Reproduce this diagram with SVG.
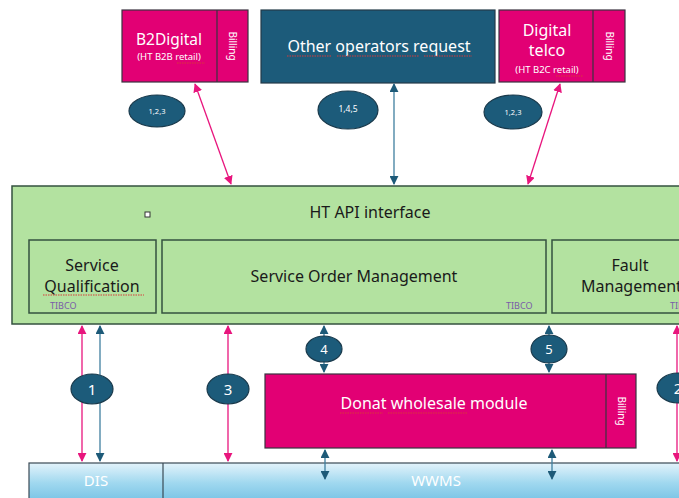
<svg xmlns="http://www.w3.org/2000/svg" width="679" height="498" viewBox="0 0 679 498">
<defs>
<linearGradient id="bar" x1="0" y1="0" x2="0" y2="1">
<stop offset="0" stop-color="#e3f3fb"/>
<stop offset="0.5" stop-color="#a0d8ef"/>
<stop offset="1" stop-color="#74c1e4"/>
</linearGradient>
<marker id="ap" viewBox="0 0 10 10" refX="9" refY="5" markerWidth="9" markerHeight="9" markerUnits="userSpaceOnUse" orient="auto-start-reverse">
<path d="M0,0 L10,5 L0,10 z" fill="#e8157d"/>
</marker>
<marker id="ab" viewBox="0 0 10 10" refX="9" refY="5" markerWidth="9" markerHeight="9" markerUnits="userSpaceOnUse" orient="auto-start-reverse">
<path d="M0,0 L10,5 L0,10 z" fill="#1d5a78"/>
</marker>
</defs>
<style>
text{font-family:"Noto Sans","Liberation Sans",Arial,sans-serif;}
.mag{fill:#e20074;stroke:#3a3340;stroke-width:1.2;}
.teal{fill:#1c5b7a;stroke:#243a48;stroke-width:1.2;}
.grn{fill:#b3e2a0;stroke:#34523f;stroke-width:1.5;}
.ell{fill:#1c5b7a;stroke:#1a3a4c;stroke-width:1.2;}
.w{fill:#ffffff;}
.k{fill:#1a1a1a;}
.tib{fill:#7a5ca8;font-size:9px;}
.pl{stroke:#e8157d;stroke-width:1.3;fill:none;marker-start:url(#ap);marker-end:url(#ap);}
.bl{stroke:#3f7f9f;stroke-width:1.3;fill:none;marker-start:url(#ab);marker-end:url(#ab);}
.sq{stroke:#d83a3a;stroke-width:1;stroke-dasharray:1.5,1;fill:none;}
.bill{fill:#ffffff;font-size:10px;}
</style>

<g id="b2digital">
<rect class="mag" x="122" y="10" width="126" height="72"/>
<line x1="217" y1="10" x2="217" y2="82" stroke="#3a3340" stroke-width="1.2"/>
<text class="w" x="169" y="45" font-size="15.5" text-anchor="middle">B2Digital</text>
<text class="w" x="169" y="60" font-size="9.5" text-anchor="middle">(HT B2B retail)</text>
<line class="sq" x1="177" y1="63" x2="205" y2="63"/>
<text class="bill" transform="translate(229,46) rotate(90)" text-anchor="middle">Billing</text>
</g>

<g id="other-operators">
<rect class="teal" x="261" y="10" width="234" height="73"/>
<text class="w" x="379" y="52" font-size="16" text-anchor="middle">Other operators request</text>
<line class="sq" x1="287" y1="56" x2="332" y2="56"/>
<line class="sq" x1="337" y1="56" x2="419" y2="56"/>
<line class="sq" x1="424" y1="56" x2="472" y2="56"/>
</g>

<g id="digital-telco">
<rect class="mag" x="499" y="10" width="126" height="72"/>
<line x1="593" y1="10" x2="593" y2="82" stroke="#3a3340" stroke-width="1.2"/>
<text class="w" x="547" y="36" font-size="16" text-anchor="middle">Digital</text>
<text class="w" x="547" y="56" font-size="16" text-anchor="middle">telco</text>
<text class="w" x="547" y="73" font-size="9.5" text-anchor="middle">(HT B2C retail)</text>
<line class="sq" x1="556" y1="76" x2="583" y2="76"/>
<text class="bill" transform="translate(606,46) rotate(90)" text-anchor="middle">Billing</text>
</g>

<g id="ht-api">
<rect class="grn" x="12" y="186" width="690" height="138"/>
<text class="k" x="370" y="218" font-size="16" text-anchor="middle">HT API interface</text>
<rect x="145" y="212" width="5" height="5" fill="#ffffff" stroke="#333" stroke-width="1"/>
</g>

<g id="service-qualification">
<rect class="grn" x="29" y="240" width="127" height="73"/>
<text class="k" x="92" y="271" font-size="16" text-anchor="middle">Service</text>
<text class="k" x="92" y="292" font-size="16" text-anchor="middle">Qualification</text>
<line class="sq" x1="43" y1="295" x2="144" y2="295"/>
<text class="tib" x="50" y="309">TIBCO</text>
</g>

<g id="service-order-management">
<rect class="grn" x="162" y="240" width="384" height="73"/>
<text class="k" x="354" y="282" font-size="16" text-anchor="middle">Service Order Management</text>
<text class="tib" x="506" y="309">TIBCO</text>
</g>

<g id="fault-management">
<rect class="grn" x="552" y="240" width="150" height="73"/>
<text class="k" x="630" y="271" font-size="16" text-anchor="middle">Fault</text>
<text class="k" x="581" y="292" font-size="16">Management</text>
<text class="tib" x="670" y="309">TIBCO</text>
</g>

<g id="donat">
<rect class="mag" x="265" y="374" width="371" height="74"/>
<line x1="606" y1="374" x2="606" y2="448" stroke="#3a3340" stroke-width="1.2"/>
<text class="w" x="434" y="409" font-size="16" text-anchor="middle">Donat wholesale module</text>
<line class="sq" x1="340" y1="413" x2="383" y2="413"/>
<line class="sq" x1="388" y1="413" x2="468" y2="413"/>
<text class="bill" transform="translate(618,411) rotate(90)" text-anchor="middle">Billing</text>
</g>

<g id="dis-wwms">
<rect x="29" y="463" width="680" height="40" fill="url(#bar)" stroke="#3a4a55" stroke-width="1.2"/>
<line x1="163" y1="463" x2="163" y2="498" stroke="#3a4a55" stroke-width="1.2"/>
<text class="w" x="96" y="486" font-size="15" text-anchor="middle">DIS</text>
<text class="w" x="436" y="486" font-size="15" text-anchor="middle">WWMS</text>
</g>

<g id="connectors">
<line class="pl" x1="195" y1="84" x2="231" y2="184"/>
<line class="bl" x1="394" y1="84" x2="394" y2="184"/>
<line class="pl" x1="560" y1="84" x2="528" y2="184"/>
<line class="pl" x1="82" y1="326" x2="82" y2="461"/>
<line class="bl" x1="100" y1="326" x2="100" y2="461"/>
<line class="pl" x1="228" y1="326" x2="228" y2="461"/>
<line class="pl" x1="677" y1="326" x2="677" y2="461"/>
<line class="bl" x1="324" y1="326" x2="324" y2="372"/>
<line class="bl" x1="549" y1="326" x2="549" y2="372"/>
<line class="bl" x1="325" y1="450" x2="325" y2="479"/>
<line class="bl" x1="552" y1="450" x2="552" y2="479"/>
</g>

<g id="labels">
<ellipse class="ell" cx="157" cy="111" rx="28" ry="16"/>
<text class="w" x="157" y="114" font-size="7.5" text-anchor="middle">1,2,3</text>
<ellipse class="ell" cx="348" cy="110" rx="30" ry="19"/>
<text class="w" x="348" y="112" font-size="8.5" text-anchor="middle">1,4,5</text>
<ellipse class="ell" cx="513" cy="112" rx="29" ry="17"/>
<text class="w" x="513" y="115" font-size="7.5" text-anchor="middle">1,2,3</text>
<ellipse class="ell" cx="92" cy="389" rx="21" ry="15"/>
<text class="w" x="92" y="395" font-size="15" text-anchor="middle">1</text>
<ellipse class="ell" cx="228" cy="389" rx="21" ry="15"/>
<text class="w" x="228" y="395" font-size="15" text-anchor="middle">3</text>
<ellipse class="ell" cx="324" cy="349" rx="18" ry="13"/>
<text class="w" x="324" y="354" font-size="13" text-anchor="middle">4</text>
<ellipse class="ell" cx="549" cy="349" rx="18" ry="14"/>
<text class="w" x="549" y="354" font-size="13" text-anchor="middle">5</text>
<ellipse class="ell" cx="678" cy="388" rx="21" ry="15"/>
<text class="w" x="678" y="394" font-size="15" text-anchor="middle">2</text>
</g>
</svg>
